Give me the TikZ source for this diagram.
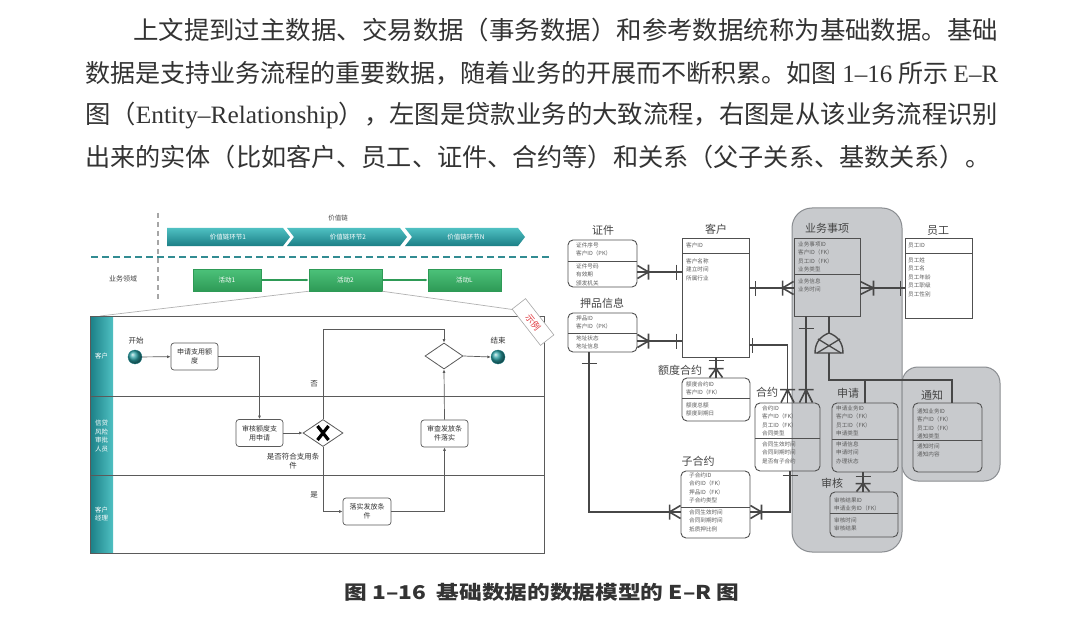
\documentclass[tikz,border=0pt]{standalone}
\usepackage{fontspec}
\setmainfont{Noto Sans CJK SC}
\newfontfamily\lat{Liberation Serif}
\usetikzlibrary{shapes.geometric,arrows.meta,calc}
\definecolor{tealA}{HTML}{2A9FA3}
\definecolor{tealD}{HTML}{1B7F86}
\definecolor{tealL}{HTML}{4FC0C2}
\definecolor{grnA}{HTML}{4CC27A}
\definecolor{grnD}{HTML}{2E9A56}
\definecolor{txt}{HTML}{333333}
\definecolor{ln}{HTML}{5A5A5A}
\definecolor{erl}{HTML}{505050}
\definecolor{cnc}{HTML}{474747}
\definecolor{rowc}{HTML}{5C5C5C}
\definecolor{ttl}{HTML}{454545}
\definecolor{grp}{HTML}{C8CACD}
\definecolor{grpE}{HTML}{8A8D91}
\definecolor{tagred}{HTML}{E0363C}
\tikzset{
  ebox/.style={draw=erl, line width=0.9, inner sep=0},
  rbox/.style={ebox, rounded corners=5},
  eline/.style={draw=erl, line width=0.9},
  rowt/.style={anchor=west, inner sep=0, font=\fontsize{5.6}{6}\selectfont, text=rowc},
  etitle/.style={inner sep=0, font=\fontsize{11}{12}\selectfont, text=ttl},
  conn/.style={draw=cnc, line width=1.6},
  pics/many/.style={code={\draw[conn] (-#1,0) -- (0,-6.5) (-#1,0) -- (0,6.5) (-#1,-7.5) -- (-#1,7.5);}},
  pics/many/.default=11,
  pics/one/.style={code={\draw[conn] (-#1,-7.5) -- (-#1,7.5);}},
  pics/one/.default=5,
  task/.style={draw=ln, fill=white, line width=0.7, rounded corners=3, minimum height=27, align=center, inner sep=1, font=\fontsize{7}{9}\selectfont, text=txt},
  flow/.style={draw=ln, line width=0.7, -{Latex[length=3.5pt,width=3pt]}},
  lbl/.style={inner sep=0, font=\fontsize{7.5}{9}\selectfont, text=txt, align=center},
  lane/.style={inner sep=0, font=\fontsize{6.5}{8.5}\selectfont, text=white, align=center},
  act/.style={minimum width=70, minimum height=22, top color=grnA, bottom color=grnD, draw=grnD, line width=0.5, text=white, inner sep=0, font=\fontsize{6.5}{8}\selectfont},
  chev/.style={inner sep=0, text=white, font=\fontsize{6.5}{8}\selectfont},
  para/.style={anchor=west, inner sep=0, text=txt},
}
\newcommand\ent[7]{\node[#2, minimum width={#5-#3}, minimum height={#6-#4}] (#1) at ({(#3+#5)/2},{(#4+#6)/2}) {}; \draw[eline] (#3,#7) -- (#5,#7);}
\newcommand\rows[4]{\foreach \rw [count=\i from 0] in {#4} {\node[rowt] (#1\i) at (#2,{#3+8.6*\i}) {\rw};}}
\begin{document}
\begin{tikzpicture}[x=1pt,y=-1pt]
\useasboundingbox (0,0) rectangle (1080,623);
\fill[white] (0,0) rectangle (1080,623);

% ---------------- paragraph ----------------
\node[para] (p1) at (133,30) {\resizebox{865pt}{\height}{\fontsize{25}{30}\selectfont 上文提到过主数据、交易数据（事务数据）和参考数据统称为基础数据。基础}};
\node[para] (p2) at (85,73) {\resizebox{913pt}{\height}{\fontsize{25}{30}\selectfont 数据是支持业务流程的重要数据，随着业务的开展而不断积累。如图 {\lat 1–16} 所示 {\lat E–R}}};
\node[para] (p3) at (85,115) {\resizebox{913pt}{\height}{\fontsize{25}{30}\selectfont 图（{\lat Entity–Relationship}），左图是贷款业务的大致流程，右图是从该业务流程识别}};
\node[para] (p4) at (85,157) {\resizebox{905pt}{\height}{\fontsize{25}{30}\selectfont 出来的实体（比如客户、员工、证件、合约等）和关系（父子关系、基数关系）。}};

% ---------------- caption ----------------
\node[inner sep=0, text=txt] (cap) at (542,592) {\resizebox{395pt}{\height}{\fontsize{19}{22}\selectfont\bfseries 图 1–16\ \ 基础数据的数据模型的 E–R 图}};

% ---------------- left: value chain ----------------
\draw[gray!70, line width=1.2, dash pattern=on 5 off 4] (158,213) -- (158,302);
\draw[tealD!90, line width=1.6, dash pattern=on 7 off 4] (91,257) -- (552,257);
\node[inner sep=0, font=\fontsize{6.5}{8}\selectfont, text=ttl] (vc) at (338,218) {价值链};
\shade[top color=tealL, bottom color=tealD] (167,228) -- (283,228) -- (290,237) -- (283,246) -- (167,246) -- cycle;
\shade[top color=tealL, bottom color=tealD] (287,228) -- (400,228) -- (407,237) -- (400,246) -- (287,246) -- (294,237) -- cycle;
\shade[top color=tealL, bottom color=tealD] (405,228) -- (518,228) -- (525,237) -- (518,246) -- (405,246) -- (412,237) -- cycle;
\node[chev] (c1) at (228,237) {价值链环节1};
\node[chev] (c2) at (348,237) {价值链环节2};
\node[chev] (c3) at (466,237) {价值链环节N};
\node[inner sep=0, font=\fontsize{7}{8}\selectfont, text=ttl] (bd) at (123,279) {业务领域};
\node[act, minimum width=68] (a1) at (227,280) {活动1};
\node[act, minimum width=73] (a2) at (345.5,280) {活动2};
\node[act, minimum width=73] (aL) at (464.5,280) {活动L};
\draw[grnD, line width=1.2, -{Latex[length=3pt,width=3pt]}] (a1) -- (a2);
\draw[grnD, line width=1.2, -{Latex[length=3pt,width=3pt]}] (a2) -- (aL);
\coordinate (fl) at (100,316);
\coordinate (fr) at (516,310);
\draw[gray!60, line width=0.7] (a2.south west) -- (fl);
\draw[gray!60, line width=0.7] (a2.south east) -- (fr);

% ---------------- left: swimlanes ----------------
\shade[left color=tealD, right color=tealL] (90,316) rectangle (113,395.5);
\shade[left color=tealD, right color=tealL] (90,396.5) rectangle (113,474.5);
\shade[left color=tealD, right color=tealL] (90,475.5) rectangle (113,553);
\draw[ln, line width=0.9] (90,316) rectangle (544,553);
\draw[ln, line width=0.8] (90,396) -- (544,396);
\draw[ln, line width=0.8] (90,475) -- (544,475);
\node[lane] (l1) at (101.5,356) {客户};
\node[lane] (l2) at (101.5,436) {信贷\\风险\\审批\\人员};
\node[lane] (l3) at (101.5,514) {客户\\经理};

\node[circle, ball color=tealA, draw=tealD, line width=0.3, minimum size=14, inner sep=0] (st) at (135,357) {};
\node[circle, ball color=tealA, draw=tealD, line width=0.3, minimum size=14, inner sep=0] (en) at (498,357) {};
\node[lbl] (stl) at (136,341) {开始};
\node[lbl] (enl) at (498,341) {结束};
\node[task, minimum width=47] (t1) at (194.5,356.5) {申请支用额\\度};
\node[task, minimum width=47] (t2) at (259.5,433) {审核额度支\\用申请};
\node[task, minimum width=48] (t3) at (367,511.5) {落实发放条\\件};
\node[task, minimum width=47] (t4) at (444.5,433.5) {审查发放条\\件落实};
\node[diamond, draw=ln, fill=white, line width=0.8, minimum width=40, minimum height=27, inner sep=0] (gw) at (323,433) {};
\draw[black, line width=3.2] (317.5,426) -- (328.5,440) (328.5,426) -- (317.5,440);
\node[diamond, draw=ln, fill=white, line width=0.8, minimum width=38, minimum height=26, inner sep=0] (gw2) at (444,356) {};
\draw[flow] (st) -- (t1);
\draw[flow] (t1.east) -| (t2.north);
\draw[flow] (t2.east) -- (gw.west);
\draw[flow] (gw.north) -- (gw.north |- 0,329) -| (gw2.north);
\draw[flow] (gw.south) |- (t3.west);
\draw[flow] (t3.east) -| (t4.south);
\draw[flow] (t4.north) -- (gw2.south);
\draw[flow] (gw2.east) -- (en.west);
\node[lbl] (no) at (314,384) {否};
\node[lbl] (yes) at (314,495) {是};
\node[lbl] (cond) at (293,461) {是否符合支用条\\件};
\node[draw=gray!70, fill=white, line width=0.6, rotate=-52, minimum width=46, minimum height=17, inner sep=0, text=tagred, font=\fontsize{9}{10}\selectfont] (tag) at (533,322) {示例};

% ---------------- right: ER diagram ----------------
\fill[grp] (792,208) [rounded corners=20] rectangle (902,552);
\draw[grpE, line width=1, rounded corners=20] (792,208) rectangle (902,552);
\fill[grp] (902,367) [rounded corners=16] rectangle (1000,481);
\draw[grpE, line width=1, rounded corners=16] (902,367) rectangle (1000,481);

\node[etitle] (zjt) at (603,230) {证件};
\ent{zj}{rbox}{568}{240}{637}{287}{261}
\rows{zjh}{576}{245}{证件序号,客户ID（PK）}
\rows{zjb}{576}{266}{证件号码,有效期,颁发机关}

\node[etitle] (ypt) at (602,303) {押品信息};
\ent{yp}{rbox}{568}{313}{637}{352}{333}
\rows{yph}{576}{318}{押品ID,客户ID（PK）}
\rows{ypb}{576}{338}{地址状态,地址信息}

\node[etitle] (kht) at (716,229) {客户};
\ent{kh}{ebox}{682}{238}{749}{357}{253}
\rows{khh}{686}{245}{客户ID}
\rows{khb}{686}{261}{客户名称,建立时间,所属行业}

\node[etitle] (ygt) at (938,231) {员工};
\ent{yg}{ebox}{905}{238}{972}{318}{253}
\rows{ygh}{908}{246}{员工ID}
\rows{ygb}{908}{260}{员工姓,员工名,员工年龄,员工职级,员工性别}

\node[etitle] (ywt) at (827,228) {业务事项};
\ent{yw}{ebox}{794}{238}{860}{316}{274}
\rows{ywh}{798}{244}{业务事项ID,客户ID（FK）,员工ID（FK）,业务类型}
\rows{ywb}{798}{281}{业务信息,业务时间}

\node[etitle] (edt) at (680,370) {额度合约};
\ent{ed}{rbox}{682}{378}{750}{421}{398}
\rows{edh}{686}{384}{额度合约ID,客户ID（FK）}
\rows{edb}{686}{405}{额度总额,额度到期日}

\node[etitle] (hyt) at (767,392) {合约};
\ent{hy}{rbox}{755}{403}{820}{471}{438}
\rows{hyh}{762}{408}{合约ID,客户ID（FK）,员工ID（FK）,合同类型}
\rows{hyb}{762}{444}{合同生效时间,合同到期时间,是否有子合约}

\node[etitle] (zht) at (698,461) {子合约};
\ent{zh}{rbox}{681}{471}{750}{538}{507}
\rows{zhh}{689}{475}{子合约ID,合约ID（FK）,押品ID（FK）,子合约类型}
\rows{zhb}{689}{512}{合同生效时间,合同到期时间,抵质押比例}

\node[etitle] (sqt) at (848,393) {申请};
\ent{sq}{rbox}{832}{403}{898}{472}{439}
\rows{sqh}{836}{408}{申请业务ID,客户ID（FK）,员工ID（FK）,申请类型}
\rows{sqb}{836}{444}{申请信息,申请时间,办理状态}

\node[etitle] (sht) at (832,483) {审核};
\ent{sh}{rbox}{830}{492}{898}{537}{513}
\rows{shh}{834}{500}{审核结果ID,申请业务ID（FK）}
\rows{shb}{834}{520}{审核时间,审核结果}

\node[etitle] (tzt) at (932,395) {通知};
\ent{tz}{rbox}{913}{403}{982}{472}{440}
\rows{tzh}{917}{411}{通知业务ID,客户ID（FK）,员工ID（FK）,通知类型}
\rows{tzb}{917}{446}{通知时间,通知内容}

% connectors
\draw[conn] (zj.east |- 0,272) -- (kh.west |- 0,272);
\path (zj.east |- 0,272) pic[rotate=180]{many} (kh.west |- 0,272) pic{one};
\draw[conn] (yp.east |- 0,341) -- (kh.west |- 0,341);
\path (yp.east |- 0,341) pic[rotate=180]{many} (kh.west |- 0,341) pic{one};
\draw[conn] (kh.east |- 0,288) -- (yw.west |- 0,288);
\path (kh.east |- 0,288) pic[rotate=180]{one=6} (yw.west |- 0,288) pic{many};
\draw[conn] (yw.east |- 0,288) -- (yg.west |- 0,288);
\path (yw.east |- 0,288) pic[rotate=180]{many=13} (yg.west |- 0,288) pic{one=4};
\draw[conn] (kh.east |- 0,345) -| (hy.north);
\path (kh.east |- 0,345) pic[rotate=180]{one=3} (hy.north) pic[rotate=-90]{many=13};
\draw[conn] (yw.south -| 806,0) -- (hy.north -| 806,0);
\path (yw.south -| 806,0) pic[rotate=90]{one=12} (hy.north -| 806,0) pic[rotate=-90]{many=13};
\draw[conn] (kh.south -| ed.north) -- (ed.north);
\path (kh.south -| ed.north) pic[rotate=90]{one=3} (ed.north) pic[rotate=-90]{many=9};
\draw[conn] (yp.south -| 589,0) |- (zh.west |- 0,512);
\path (yp.south -| 589,0) pic[rotate=90]{one=11} (zh.west |- 0,512) pic{many};
\draw[conn] (hy.south -| 790,0) |- (zh.east |- 0,512);
\path (hy.south -| 790,0) pic[rotate=90]{one=4} (zh.east |- 0,512) pic[rotate=180]{many};
\draw[conn] (sq.south -| 863,0) -- (sh.north -| 863,0);
\path (sq.south -| 863,0) pic[rotate=90]{one=4} (sh.north -| 863,0) pic[rotate=-90]{many=8};
% subtype symbol
\coordinate (apex) at (829,333);
\coordinate (base) at (829,353);
\coordinate (jn) at (829,380);
\draw[conn] (yw.south -| apex) -- (apex);
\draw[conn, line width=1.4] (815,353) .. controls (815,342) and (821,336) .. (apex) .. controls (837,336) and (843,342) .. (843,353) -- cycle;
\draw[conn, line width=1.3] (818,339) -- (841,353) (840,339) -- (817,353);
\draw[conn] (base) -- (jn) -| (sq.north);
\draw[conn] (jn) -| (tz.north -| 952,0);
\end{tikzpicture}
\end{document}
